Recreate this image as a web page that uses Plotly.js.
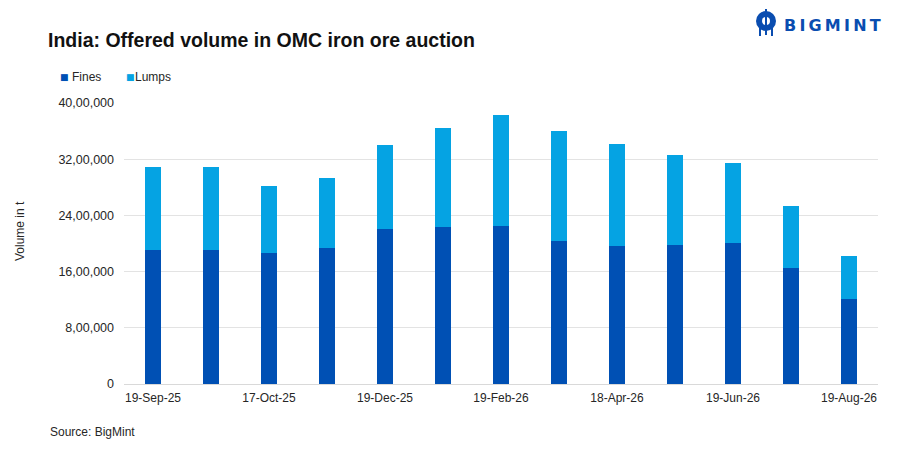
<!DOCTYPE html>
<html>
<head>
<meta charset="utf-8">
<script src="https://cdn.plot.ly/plotly-3.0.1.min.js"></script>
<style>html,body{margin:0;padding:0;background:#fff;}#chart{width:906px;height:453px;}</style>
</head>
<body>
<div id="chart"></div>
<script>
const categories = ["19-Sep-25","03-Oct-25","17-Oct-25","19-Nov-25","19-Dec-25","19-Jan-26","19-Feb-26","19-Mar-26","18-Apr-26","19-May-26","19-Jun-26","19-Jul-26","19-Aug-26"];
const fines = [1912000,1912000,1865000,1940000,2211000,2239000,2249000,2040000,1969000,1978000,2011000,1646000,1210000];
const totals = [3093000,3093000,2818000,2932000,3402000,3648000,3824000,3601000,3416000,3264000,3150000,2528000,1826000];
const lumps = totals.map((t,i)=>t-fines[i]);
const shownTicks = ["19-Sep-25","17-Oct-25","19-Dec-25","19-Feb-26","18-Apr-26","19-Jun-26","19-Aug-26"];
const yTickVals = [0,800000,1600000,2400000,3200000,4000000];
const yTickText = ["0","8,00,000","16,00,000","24,00,000","32,00,000","40,00,000"];
const seriesNames = ["Fines","Lumps"];
const seriesColors = ["#0050B4","#05A3E3"];

const font = "Liberation Sans, Arial, sans-serif";
const W = 906, H = 453, L = 124, R = 28, T = 103, B = 69;
const pw = W - L - R, ph = H - T - B;
const px = v => (v - L) / pw;        // pixel x -> paper
const py = v => (H - B - v) / ph;    // pixel y -> paper

const data = [
  {type:"bar", name:seriesNames[0], x:categories, y:fines, marker:{color:seriesColors[0]}},
  {type:"bar", name:seriesNames[1], x:categories, y:lumps, marker:{color:seriesColors[1]}}
];

const legendSquareX = [59, 125];
const legendTextX = [71, 134];
const legendAnn = [];
seriesNames.forEach((n,i)=>{
  legendAnn.push({text:"■",xref:"paper",yref:"paper",x:px(legendSquareX[i]),y:py(77.5),xanchor:"left",yanchor:"middle",showarrow:false,borderpad:0,
    font:{family:"DejaVu Sans, sans-serif",size:9,color:seriesColors[i]}});
  legendAnn.push({text:n,xref:"paper",yref:"paper",x:px(legendTextX[i]),y:py(77),xanchor:"left",yanchor:"middle",showarrow:false,borderpad:0,
    font:{size:12,color:"#262626"}});
});

const layout = {
  width:W, height:H,
  barmode:"stack", bargap:0.71,
  paper_bgcolor:"#fff", plot_bgcolor:"#fff",
  margin:{l:L,r:R,t:T,b:B},
  font:{family:font,size:12,color:"#262626"},
  showlegend:false,
  title:{text:"<b>India: Offered volume in OMC iron ore auction</b>",x:48/W,xanchor:"left",xref:"container",y:1-40/H,yanchor:"middle",yref:"container",font:{family:font,size:19.5,color:"#111111"}},
  xaxis:{type:"category",tickmode:"array",tickvals:shownTicks,ticktext:shownTicks,showgrid:false,showline:true,linecolor:"#d9d9d9",linewidth:1,ticks:"",ticklabelstandoff:3,tickfont:{size:12,color:"#262626"},fixedrange:true},
  yaxis:{range:[0,4000000],tickmode:"array",tickvals:yTickVals,ticktext:yTickText,showgrid:true,gridcolor:"#e3e3e3",gridwidth:1,zeroline:false,showline:false,ticks:"",ticklabelstandoff:9,tickfont:{size:12.5,color:"#262626"}},
  annotations:[
    ...legendAnn,
    {text:"Volume in t",xref:"paper",yref:"paper",x:px(20),y:py(231),xanchor:"center",yanchor:"middle",textangle:-90,showarrow:false,font:{size:12,color:"#262626"}},
    {text:"Source: BigMint",xref:"paper",yref:"paper",x:px(48),y:py(432),xanchor:"left",yanchor:"middle",showarrow:false,font:{size:12,color:"#262626"}},
    {text:"<b>B\u2009I\u2009G\u2009M\u2009I\u2009N\u2009T</b>",xref:"paper",yref:"paper",x:px(782),y:py(25),xanchor:"left",yanchor:"middle",showarrow:false,font:{family:"DejaVu Sans, sans-serif",size:16,color:"#0A4DB0"}}
  ],
  shapes:[
    {type:"circle",xref:"paper",yref:"paper",x0:px(756),x1:px(776),y0:py(31),y1:py(11),fillcolor:"#0A4DB0",line:{width:0}},
    {type:"circle",xref:"paper",yref:"paper",x0:px(762),x1:px(770),y0:py(25),y1:py(17),fillcolor:"#fff",line:{width:0}},
    {type:"rect",xref:"paper",yref:"paper",x0:px(765),x1:px(767),y0:py(35),y1:py(9),fillcolor:"#0A4DB0",line:{width:0}},
    {type:"rect",xref:"paper",yref:"paper",x0:px(759),x1:px(761),y0:py(36),y1:py(28),fillcolor:"#0A4DB0",line:{width:0}},
    {type:"rect",xref:"paper",yref:"paper",x0:px(771),x1:px(773),y0:py(36),y1:py(28),fillcolor:"#0A4DB0",line:{width:0}}
  ]
};
Plotly.newPlot("chart",data,layout,{staticPlot:true,displayModeBar:false});
</script>
</body>
</html>
